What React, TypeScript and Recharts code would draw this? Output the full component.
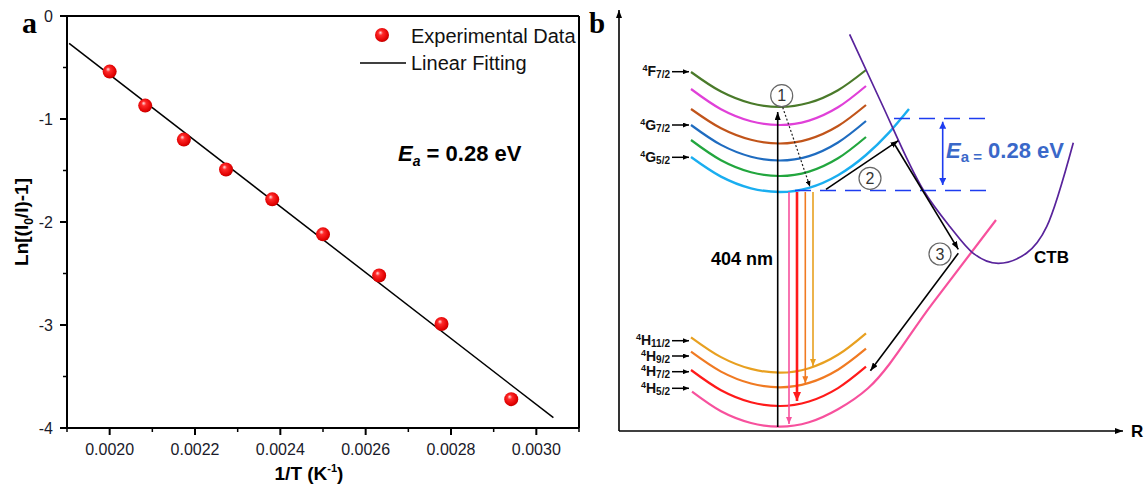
import React from 'react';
import { ComposedChart, Scatter, XAxis, YAxis, ReferenceLine, Line, ReferenceDot } from 'recharts';

// ---------------- Panel a data ----------------
const invT = [0.002, 0.0020833, 0.0021739, 0.0022727, 0.002381, 0.0025, 0.0026316, 0.0027778, 0.0029412];
const lnRatio = [-0.54, -0.87, -1.2, -1.49, -1.78, -2.12, -2.52, -2.99, -3.72];
const fitX = [0.001905, 0.00304];
const fitY = [-0.265, -3.9];
const xMajorTicks = [0.002, 0.0022, 0.0024, 0.0026, 0.0028, 0.003];
const xMinorTicks = [0.0019, 0.0021, 0.0023, 0.0025, 0.0027, 0.0029, 0.0031];
const yMajorTicks = [0, -1, -2, -3, -4];
const yMinorTicks = [-0.5, -1.5, -2.5, -3.5];

// ---------------- Panel b data (schematic, arbitrary units: R, E) ----------------
const rLevel = [72, 102, 132, 161, 190, 219, 247];
const eF72 = [359, 339.4, 327.7, 324, 328.2, 340.8, 361];
const eMid1 = [342, 321.8, 309.8, 306, 310.4, 323.7, 345];
const eMid2 = [322, 302.7, 291.2, 287.5, 291.9, 305, 326];
const eG72 = [306, 286.1, 274.3, 270.5, 274.9, 288.5, 310];
const eMid3 = [291, 270.8, 258.8, 255, 259.4, 272.7, 294];
const rG52 = [72, 102, 132, 161, 190, 219, 247, 270, 290];
const eG52 = [274, 254.4, 242.7, 239, 243.2, 255.8, 276, 298.4, 322];
const eH112 = [93.7, 73.9, 62.1, 58.3, 62.8, 76.2, 97.7];
const eH92 = [79.3, 59.4, 47.5, 43.7, 48.1, 61.3, 82.3];
const eH72 = [61, 40.8, 28.8, 25, 29.5, 42.9, 64.3];
const rH52 = [73, 102, 132, 161, 190, 219, 249, 313, 377];
const eH52 = [39.3, 19.7, 8, 4.3, 8.7, 21.7, 42.7, 126.9, 211];
const rCTB = [230.6, 261, 304.3, 331, 354.3, 379.3, 407.7, 427.7, 454.3];
const eCTB = [396.7, 331, 241, 204.3, 177.7, 167.7, 178, 204.3, 288.3];

const excitationArrow = [[158.7, 4], [158.7, 319]];
const relaxArrow = [[163.7, 323.7], [191, 244.3]];
const emitH52 = [[170, 239], [170, 7]];
const emitH72 = [[178, 239], [178, 30]];
const emitH92 = [[186.3, 239], [186.3, 47.7]];
const emitH112 = [[194, 239], [194, 65]];
const stepTwo = [[207, 241.7], [279.3, 290.3]];
const stepThree = [[276, 286], [339.3, 181.7]];
const stepBack = [[339.3, 177.7], [251.4, 60.3]];
const upperBarrier = [[275, 312.5], [374, 312.5]];
const lowerBarrier = [[176, 240.5], [376, 240.5]];
const barrierSpan = [[323.7, 246], [323.7, 309.3]];
const energyAxis = [[0, 0], [0, 421]];
const coordAxis = [[0, 0], [504, 0]];
const stepLabels = ['1', '2', '3'];
const stepR = [162.7, 251, 321];
const stepE = [335.3, 252.7, 177];

const levelNames = [
  ['4', 'F', '7/2'],
  ['4', 'G', '7/2'],
  ['4', 'G', '5/2'],
  ['4', 'H', '11/2'],
  ['4', 'H', '9/2'],
  ['4', 'H', '7/2'],
  ['4', 'H', '5/2'],
];
const levelLabelY = [71.7, 125, 157.3, 340.7, 356, 371.7, 388.3];

// ---------------- helpers ----------------
const expData = invT.map((x, i) => ({ x, y: lnRatio[i] }));
const fitData = fitX.map((x, i) => ({ x, y: fitY[i] }));
const toPts = (r: number[], e: number[]) => r.map((x, i) => ({ x, y: e[i] }));
const seg = (p: number[][]) => [{ x: p[0][0], y: p[0][1] }, { x: p[1][0], y: p[1][1] }];
const near = (v: number, arr: number[]) => arr.some((a) => Math.abs(a - v) < 1e-9);

const FONT = "'Liberation Sans', Arial, sans-serif";

const XTick = (p: any) => {
  const v = p.payload.value;
  const major = near(v, xMajorTicks);
  const ay = p.y - 11;
  return (
    <g>
      <line x1={p.x} x2={p.x} y1={ay} y2={ay + (major ? 7 : 4)} stroke="#000" strokeWidth={major ? 2 : 1.5} />
      {major && (
        <text x={p.x} y={ay + 27} textAnchor="middle" fontSize={16} fill="#1a1a2a" fontFamily={FONT}>
          {v.toFixed(4)}
        </text>
      )}
    </g>
  );
};

const YTick = (p: any) => {
  const v = p.payload.value;
  const major = near(v, yMajorTicks);
  const ax = p.x + 11;
  return (
    <g>
      <line x1={ax} x2={ax - (major ? 7 : 4)} y1={p.y} y2={p.y} stroke="#000" strokeWidth={major ? 2 : 1.5} />
      {major && (
        <text x={ax - 14} y={p.y + 6} textAnchor="end" fontSize={16} fill="#1a1a2a" fontFamily={FONT}>
          {String(v)}
        </text>
      )}
    </g>
  );
};

const Sphere = (p: any) => <circle cx={p.cx} cy={p.cy} r={7} fill="url(#sphereGrad)" />;

const arrowShape = (color: string, width: number, markerEnd?: string, dash?: string, markerStart?: string) =>
  (p: any) => (
    <line
      x1={p.x1}
      y1={p.y1}
      x2={p.x2}
      y2={p.y2}
      stroke={color}
      strokeWidth={width}
      strokeDasharray={dash}
      markerEnd={markerEnd ? `url(#${markerEnd})` : undefined}
      markerStart={markerStart ? `url(#${markerStart})` : undefined}
    />
  );

const curveStyles: Record<string, { stroke: string; w: number }> = {
  F72: { stroke: '#4a7a2a', w: 2.2 },
  M1: { stroke: '#e040d8', w: 2.2 },
  M2: { stroke: '#c1541a', w: 2.2 },
  G72: { stroke: '#1f6cc0', w: 2.2 },
  M3: { stroke: '#22a63e', w: 2.2 },
  G52: { stroke: '#1aaef0', w: 2.4 },
  H112: { stroke: '#e8a020', w: 2.2 },
  H92: { stroke: '#f07a22', w: 2.2 },
  H72: { stroke: '#ff1a1a', w: 2.2 },
  H52: { stroke: '#f7519d', w: 2.2 },
  CTB: { stroke: '#58239b', w: 1.7 },
};

const curves: { key: string; r: number[]; e: number[] }[] = [
  { key: 'F72', r: rLevel, e: eF72 },
  { key: 'M1', r: rLevel, e: eMid1 },
  { key: 'M2', r: rLevel, e: eMid2 },
  { key: 'G72', r: rLevel, e: eG72 },
  { key: 'M3', r: rLevel, e: eMid3 },
  { key: 'G52', r: rG52, e: eG52 },
  { key: 'H112', r: rLevel, e: eH112 },
  { key: 'H92', r: rLevel, e: eH92 },
  { key: 'H72', r: rLevel, e: eH72 },
  { key: 'H52', r: rH52, e: eH52 },
  { key: 'CTB', r: rCTB, e: eCTB },
];

const Marker = ({ id, color, w, h }: { id: string; color: string; w: number; h: number }) => (
  <marker id={id} markerWidth={w} markerHeight={h} refX={w} refY={h / 2} orient="auto-start-reverse" markerUnits="userSpaceOnUse">
    <path d={`M0,0 L${w},${h / 2} L0,${h} z`} fill={color} />
  </marker>
);

// panel b plot origin in page pixels (used only to place the numbers inside the step circles)
const B_LEFT = 619;
const B_BOTTOM = 431;

export default function App() {
  const allXTicks = [...xMinorTicks, ...xMajorTicks].sort((a, b) => a - b);
  const allYTicks = [...yMajorTicks, ...yMinorTicks].sort((a, b) => a - b);
  return (
    <div style={{ position: 'absolute', left: 0, top: 0, width: 1145, height: 488, background: '#fff', fontFamily: FONT }}>
      <svg width={0} height={0} style={{ position: 'absolute' }}>
        <defs>
          <radialGradient id="sphereGrad" cx="0.45" cy="0.45" r="0.6" fx="0.38" fy="0.32">
            <stop offset="0" stopColor="#ffe0e0" />
            <stop offset="0.28" stopColor="#ff2a2a" />
            <stop offset="0.8" stopColor="#e00000" />
            <stop offset="1" stopColor="#b00000" />
          </radialGradient>
          <Marker id="mk-black" color="#000" w={8} h={6} />
          <Marker id="mk-small" color="#000" w={6} h={5} />
          <Marker id="mk-pink" color="#f7519d" w={7} h={6} />
          <Marker id="mk-red" color="#ff1a1a" w={9} h={8} />
          <Marker id="mk-orange" color="#f07a22" w={7} h={6} />
          <Marker id="mk-yellow" color="#e8a020" w={7} h={6} />
          <Marker id="mk-blue" color="#1d3cf0" w={7} h={7} />
        </defs>
      </svg>

      {/* Panel a */}
      <div style={{ position: 'absolute', left: 0, top: 0 }}>
        <ComposedChart width={600} height={488} margin={{ top: 16, right: 21, bottom: 30, left: 17 }}>
          <XAxis
            dataKey="x"
            type="number"
            domain={[0.0019, 0.0031]}
            ticks={allXTicks}
            interval={0}
            tickLine={false}
            tickSize={7}
            tickMargin={4}
            tick={XTick}
            axisLine={{ stroke: '#000', strokeWidth: 2 }}
            height={30}
            allowDataOverflow
          />
          <YAxis
            dataKey="y"
            type="number"
            domain={[-4, 0]}
            ticks={allYTicks}
            interval={0}
            tickLine={false}
            tickSize={7}
            tickMargin={4}
            tick={YTick}
            axisLine={{ stroke: '#000', strokeWidth: 2 }}
            width={50}
            allowDataOverflow
          />
          <ReferenceLine y={0} stroke="#000" strokeWidth={2} ifOverflow="visible" />
          <ReferenceLine x={0.0031} stroke="#000" strokeWidth={2} ifOverflow="visible" />
          <Scatter
            data={fitData}
            line={{ stroke: '#000', strokeWidth: 1.5 }}
            shape={() => <g />}
            isAnimationActive={false}
          />
          <Scatter data={expData} shape={Sphere} isAnimationActive={false} />
        </ComposedChart>
      </div>

      {/* Panel b */}
      <div style={{ position: 'absolute', left: 600, top: 0 }}>
        <ComposedChart width={545} height={488} margin={{ top: 10, right: 22, bottom: 57, left: 19 }}>
          <XAxis dataKey="x" type="number" domain={[0, 504]} hide allowDataOverflow />
          <YAxis dataKey="y" type="number" domain={[0, 421]} hide allowDataOverflow />
          {curves.map((c) => (
            <Line
              key={c.key}
              data={toPts(c.r, c.e)}
              dataKey="y"
              type="monotone"
              dot={false}
              stroke={curveStyles[c.key].stroke}
              strokeWidth={curveStyles[c.key].w}
              isAnimationActive={false}
            />
          ))}
          <ReferenceLine segment={seg(energyAxis)} ifOverflow="visible" shape={arrowShape('#000', 1.6, 'mk-black')} />
          <ReferenceLine segment={seg(coordAxis)} ifOverflow="visible" shape={arrowShape('#000', 1.6, 'mk-black')} />
          <ReferenceLine segment={seg(lowerBarrier)} ifOverflow="visible" shape={arrowShape('#1d3cf0', 1.6, undefined, '16 9')} />
          <ReferenceLine segment={seg(upperBarrier)} ifOverflow="visible" shape={arrowShape('#1d3cf0', 1.6, undefined, '16 9')} />
          <ReferenceLine segment={seg(barrierSpan)} ifOverflow="visible" shape={arrowShape('#1d3cf0', 1.6, 'mk-blue', undefined, 'mk-blue')} />
          <ReferenceLine segment={seg(excitationArrow)} ifOverflow="visible" shape={arrowShape('#000', 1.6, 'mk-black')} />
          <ReferenceLine segment={seg(relaxArrow)} ifOverflow="visible" shape={arrowShape('#222', 1.2, 'mk-small', '2 2')} />
          <ReferenceLine segment={seg(emitH52)} ifOverflow="visible" shape={arrowShape('#f7519d', 1.6, 'mk-pink')} />
          <ReferenceLine segment={seg(emitH72)} ifOverflow="visible" shape={arrowShape('#ff1a1a', 2.6, 'mk-red')} />
          <ReferenceLine segment={seg(emitH92)} ifOverflow="visible" shape={arrowShape('#f07a22', 1.6, 'mk-orange')} />
          <ReferenceLine segment={seg(emitH112)} ifOverflow="visible" shape={arrowShape('#e8a020', 1.6, 'mk-yellow')} />
          <ReferenceLine segment={seg(stepTwo)} ifOverflow="visible" shape={arrowShape('#000', 1.6, 'mk-black')} />
          <ReferenceLine segment={seg(stepThree)} ifOverflow="visible" shape={arrowShape('#000', 1.6, 'mk-black')} />
          <ReferenceLine segment={seg(stepBack)} ifOverflow="visible" shape={arrowShape('#000', 1.6, 'mk-black')} />
          {stepLabels.map((s, i) => (
            <ReferenceDot
              key={s}
              x={stepR[i]}
              y={stepE[i]}
              r={11}
              fill="#fff"
              stroke="#666"
              strokeWidth={1.2}
              ifOverflow="visible"
            />
          ))}
        </ComposedChart>
      </div>

      {/* Text annotations */}
      <svg width={1145} height={488} style={{ position: 'absolute', left: 0, top: 0, pointerEvents: 'none' }} fontFamily={FONT}>
        <text x={22} y={33} fontSize={30} fontWeight="bold" fontFamily="'Liberation Serif', 'Times New Roman', serif">a</text>
        <text x={589} y={33} fontSize={29} fontWeight="bold" fontFamily="'Liberation Serif', 'Times New Roman', serif">b</text>

        {/* legend */}
        <circle cx={382} cy={35} r={7} fill="url(#sphereGrad)" />
        <text x={411} y={42.5} fontSize={20} fill="#111">Experimental Data</text>
        <line x1={360} x2={406} y1={63} y2={63} stroke="#000" strokeWidth={1.5} />
        <text x={411} y={70} fontSize={20} fill="#111">Linear Fitting</text>

        <text x={398} y={161} fontSize={22} fontWeight="bold" style={{ whiteSpace: 'pre' }}>
          <tspan fontStyle="italic">E</tspan>
          <tspan fontStyle="italic" fontSize={14} dy={5}>a</tspan>
          <tspan dy={-5}>{' = 0.28 eV'}</tspan>
        </text>

        <text transform="translate(27.5,222) rotate(-90)" textAnchor="middle" fontSize={19} fontWeight="bold">
          Ln[(I<tspan fontSize={12} dy={5}>0</tspan><tspan dy={-5}>/I)-1]</tspan>
        </text>
        <text x={309} y={480} textAnchor="middle" fontSize={19} fontWeight="bold" style={{ whiteSpace: 'pre' }}>
          {'1/T (K'}<tspan fontSize={11} dy={-8}>-1</tspan><tspan dy={8}>)</tspan>
        </text>

        {/* panel b texts */}
        <text x={1131} y={437} fontSize={17} fontWeight="bold">R</text>
        <text x={1034} y={263} fontSize={17} fontWeight="bold">CTB</text>
        <text x={773} y={265} textAnchor="end" fontSize={18} fontWeight="bold">404 nm</text>
        <text x={946} y={158} fontSize={22} fontWeight="bold" fill="#3a68c9" style={{ whiteSpace: 'pre' }}>
          <tspan fontStyle="italic">E</tspan>
          <tspan fontSize={15} dy={4}>a</tspan>
          <tspan fontSize={15}>{' ='}</tspan>
          <tspan dy={-4}>{' 0.28 eV'}</tspan>
        </text>
        {stepLabels.map((s, i) => (
          <text key={s} x={B_LEFT + stepR[i]} y={B_BOTTOM - stepE[i] + 5.5} textAnchor="middle" fontSize={16} fill="#333">
            {s}
          </text>
        ))}
        {levelNames.map((n, i) => (
          <g key={i}>
            <text x={670} y={levelLabelY[i] + 4.5} textAnchor="end" fontWeight="bold" fill="#111">
              <tspan fontSize={9} dy={-5}>{n[0]}</tspan>
              <tspan fontSize={14} dy={5}>{n[1]}</tspan>
              <tspan fontSize={10} dy={2}>{n[2]}</tspan>
            </text>
            <line x1={672} x2={689} y1={levelLabelY[i]} y2={levelLabelY[i]} stroke="#000" strokeWidth={1.5} markerEnd="url(#mk-small)" />
          </g>
        ))}
      </svg>
    </div>
  );
}
